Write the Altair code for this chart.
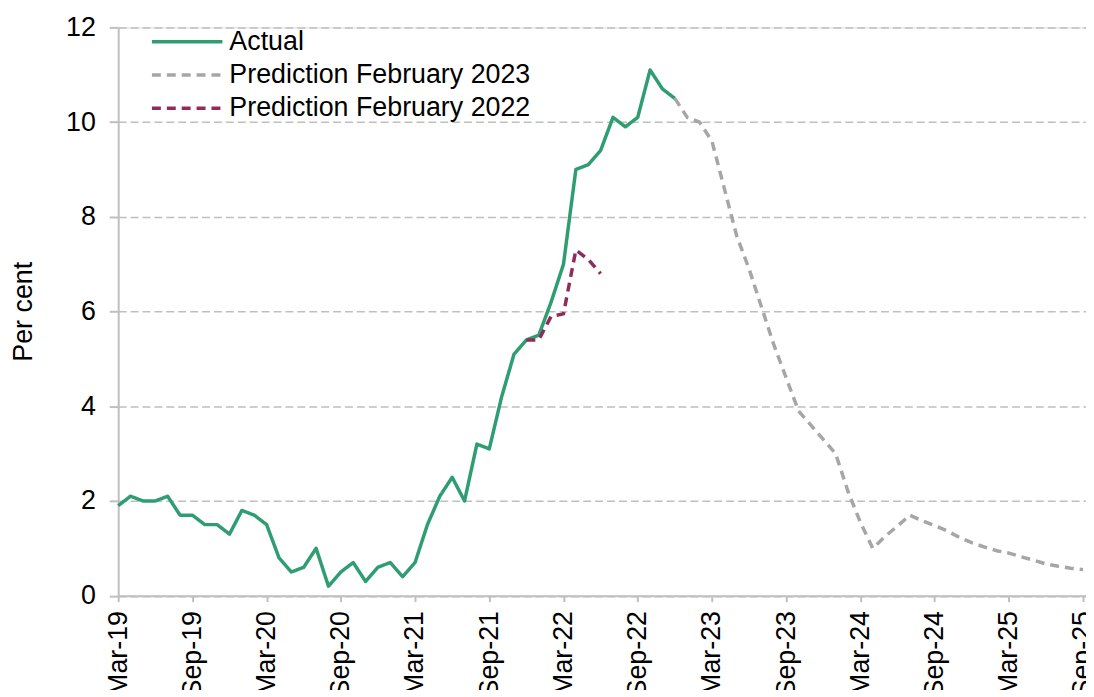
import altair as alt
import pandas as pd

# Month categories (Mar-19 .. Sep-25)
months = [d.strftime("%b-%y") for d in pd.date_range("2019-03-01", "2025-09-01", freq="MS")]
tick_labels = months[::6]

# CPI inflation, per cent
actual = [
    1.9, 2.1, 2.0, 2.0, 2.1, 1.7, 1.7, 1.5, 1.5, 1.3,                 # Mar-19..Dec-19
    1.8, 1.7, 1.5, 0.8, 0.5, 0.6, 1.0, 0.2, 0.5, 0.7, 0.3, 0.6,       # 2020
    0.7, 0.4, 0.7, 1.5, 2.1, 2.5, 2.0, 3.2, 3.1, 4.2, 5.1, 5.4,       # 2021
    5.5, 6.2, 7.0, 9.0, 9.1, 9.4, 10.1, 9.9, 10.1, 11.1, 10.7, 10.5,  # 2022
]
pred_2023_start = "Dec-22"
pred_2023 = [
    10.5,
    10.1, 10.0, 9.6, 8.6, 7.6, 6.9, 6.1, 5.3, 4.6, 3.9, 3.6, 3.3,
    3.0, 2.2, 1.55, 1.0, 1.25, 1.47, 1.7, 1.58, 1.48, 1.37, 1.23, 1.12,
    1.03, 0.95, 0.9, 0.82, 0.75, 0.67, 0.62, 0.58, 0.55,
]
pred_2022_start = "Dec-21"
pred_2022 = [5.4, 5.4, 5.9, 5.95, 7.3, 7.1, 6.8]

series_names = ["Actual", "Prediction February 2023", "Prediction February 2022"]
series_colors = ["#2E9E72", "#A6A6A6", "#8E2C5E"]
series_dashes = [[1, 0], [9, 6], [9, 6]]

rows = []
for name, start, vals in [
    ("Actual", "Mar-19", actual),
    ("Prediction February 2023", pred_2023_start, pred_2023),
    ("Prediction February 2022", pred_2022_start, pred_2022),
]:
    s = months.index(start)
    for i, v in enumerate(vals):
        rows.append({"series": name, "idx": s + i, "month": months[s + i], "value": v})
df = pd.DataFrame(rows)

label_expr = "[" + ",".join(f"'{t}'" for t in tick_labels) + "][round(datum.value/6)]"

FONT = "Liberation Sans"
GRID = "#BFBFBF"
FS = 27

chart = alt.Chart(df).mark_line(strokeWidth=3.5, strokeJoin="round").encode(
    x=alt.X(
        "idx:Q",
        scale=alt.Scale(domain=[0, 78.24], nice=False, zero=False),
        axis=alt.Axis(
            values=list(range(0, 79, 6)),
            labelExpr=label_expr,
            title=None,
            grid=False,
            labelAngle=270,
            labelAlign="right",
            labelBaseline="middle",
            labelFontSize=FS,
            labelPadding=9,
            labelOverlap=False,
            labelFlush=False,
            labelBound=False,
            tickSize=6,
            tickColor=GRID,
            tickWidth=2,
            domainColor=GRID,
            domainWidth=2,
        ),
    ),
    y=alt.Y(
        "value:Q",
        scale=alt.Scale(domain=[0, 12], nice=False),
        axis=alt.Axis(
            values=[0, 2, 4, 6, 8, 10, 12],
            title="Per cent",
            titleFontSize=FS,
            titleFontWeight="normal",
            titleAngle=270,
            titleX=-87,
            titleY=286,
            titleAlign="center",
            titleBaseline="alphabetic",
            labelFontSize=FS,
            labelPadding=14,
            tickSize=9,
            tickColor=GRID,
            tickWidth=2,
            domainColor=GRID,
            domainWidth=2,
            grid=True,
            gridColor=GRID,
            gridDash=[8, 4],
            gridWidth=1.5,
        ),
    ),
    color=alt.Color(
        "series:N",
        scale=alt.Scale(domain=series_names, range=series_colors),
        legend=alt.Legend(title=None),
    ),
    strokeDash=alt.StrokeDash(
        "series:N",
        scale=alt.Scale(domain=series_names, range=series_dashes),
        legend=alt.Legend(title=None),
    ),
).properties(
    width=975,
    height=572.5,
    autosize=alt.AutoSizeParams(type="none"),
    padding={"left": 111, "top": 17, "right": 0, "bottom": 92},
).configure_view(
    stroke=None
).configure(
    font=FONT
).configure_axis(
    labelFont=FONT, titleFont=FONT, labelColor="#000000", titleColor="#000000"
).configure_legend(
    orient="none",
    legendX=32,
    legendY=2,
    padding=0,
    symbolType="stroke",
    symbolSize=5041,
    symbolStrokeWidth=3.5,
    clipHeight=25,
    rowPadding=5.5,
    labelFontSize=FS,
    labelFont=FONT,
    labelColor="#000000",
    labelOffset=5,
    labelLimit=0,
)

chart.save("out.html", embed_options={"renderer": "svg", "actions": False})
